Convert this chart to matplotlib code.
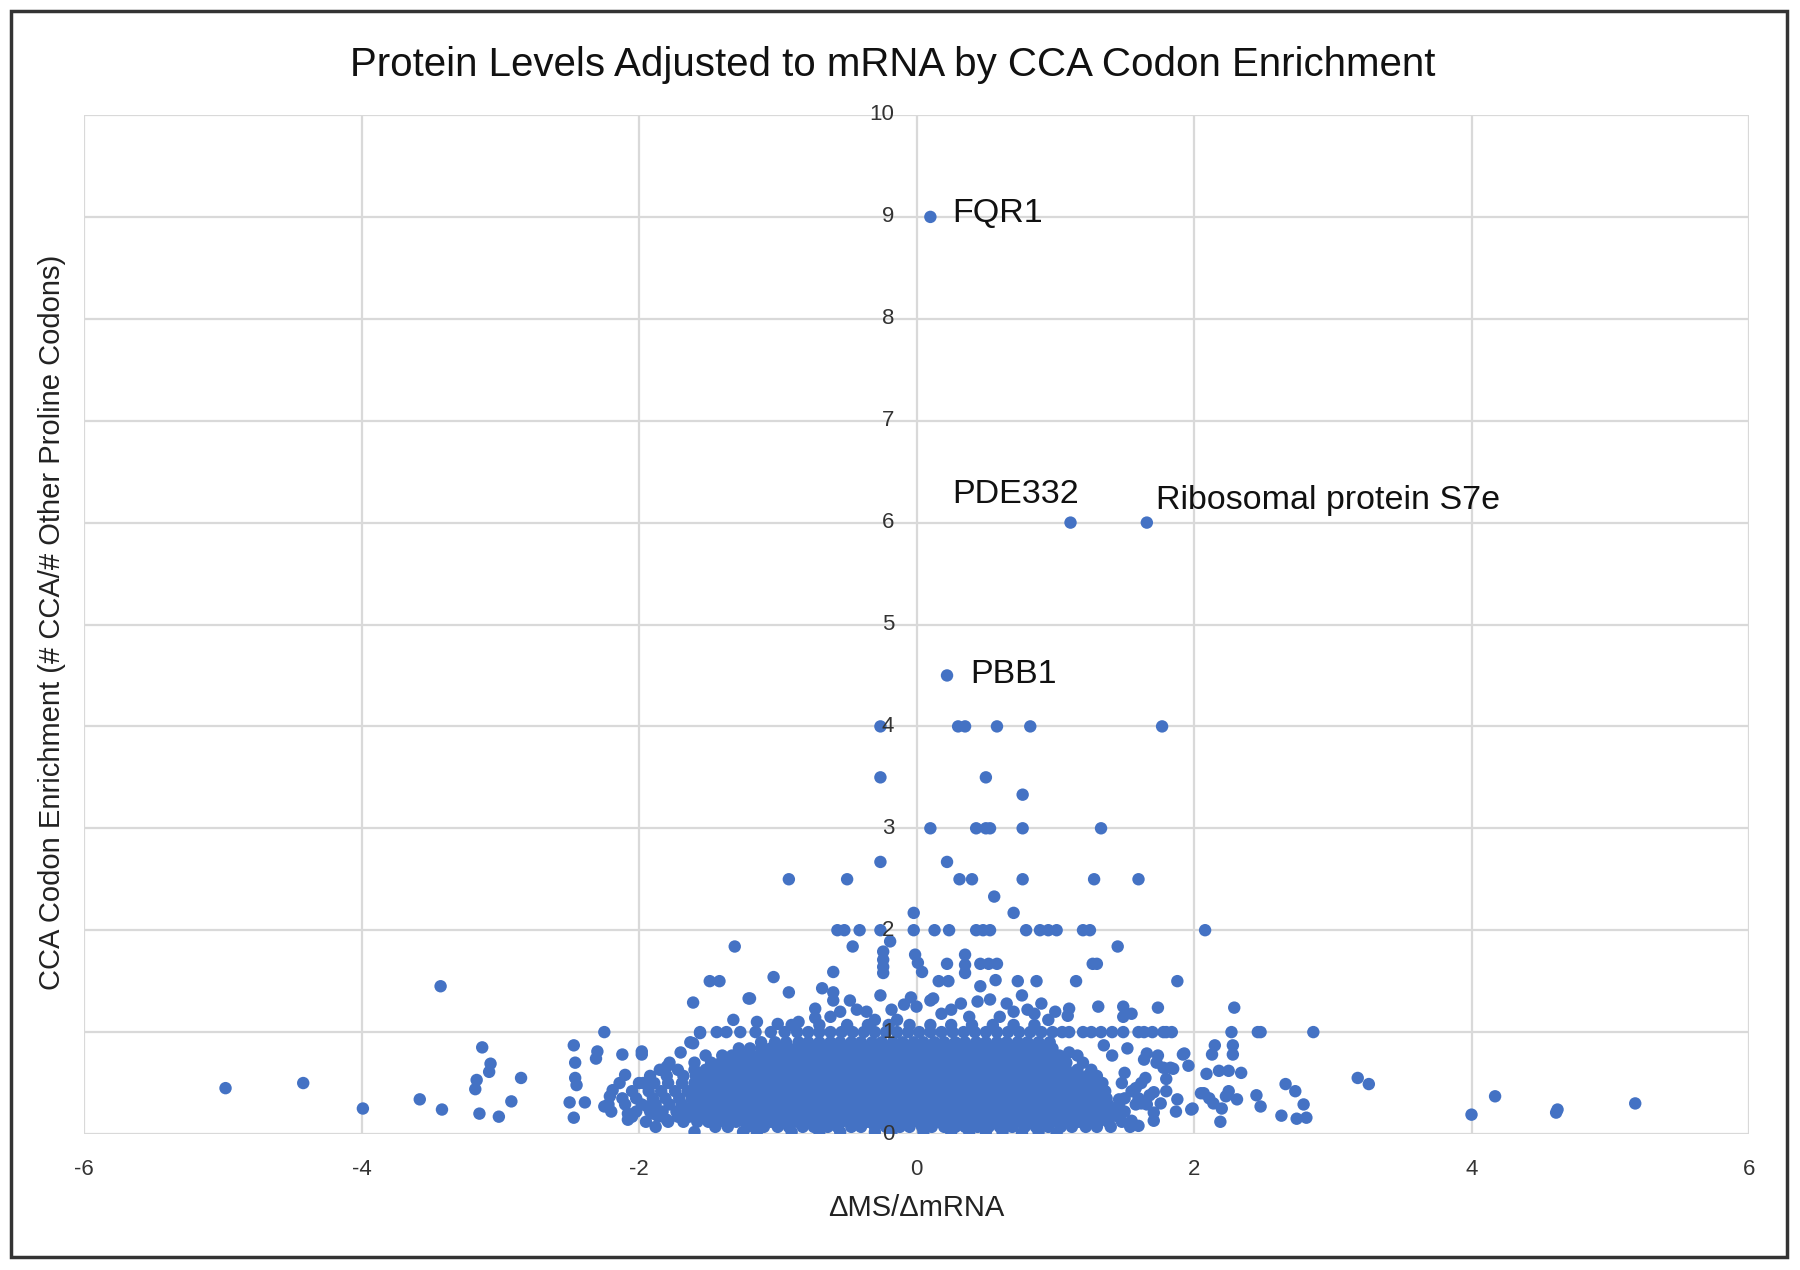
import matplotlib
matplotlib.use("Agg")
import matplotlib.pyplot as plt
from matplotlib.patches import Rectangle
import numpy as np

plt.rcParams['font.family'] = ['Liberation Sans', 'DejaVu Sans']
plt.rcParams['axes.unicode_minus'] = False

TITLE = "Protein Levels Adjusted to mRNA by CCA Codon Enrichment"
XLABEL = "\u0394MS/\u0394mRNA"
YLABEL = "CCA Codon Enrichment (# CCA/# Other Proline Codons)"
x_ticks = [-6, -4, -2, 0, 2, 4, 6]
y_ticks = [0, 1, 2, 3, 4, 5, 6, 7, 8, 9, 10]

# labelled genes
label_names = ["FQR1", "PDE332", "Ribosomal protein S7e", "PBB1"]
label_x = [0.10, 1.11, 1.66, 0.22]
label_y = [9.0, 6.0, 6.0, 4.5]

# sparse upper points (x, y)
upper_pts = [
    (-0.26, 4.0), (0.30, 4.0), (0.35, 4.0), (0.58, 4.0), (0.82, 4.0), (1.77, 4.0),
    (-0.26, 3.5), (0.50, 3.5), (0.765, 3.33),
    (0.10, 3.0), (0.43, 3.0), (0.50, 3.0), (0.53, 3.0), (0.765, 3.0), (1.33, 3.0),
    (-0.26, 2.67), (0.22, 2.67),
    (-0.92, 2.5), (-0.50, 2.5), (0.31, 2.5), (0.40, 2.5), (0.765, 2.5), (1.28, 2.5), (1.60, 2.5),
    (0.56, 2.33), (0.70, 2.17), (-0.02, 2.17),
    (-0.57, 2.0), (-0.52, 2.0), (-0.41, 2.0), (-0.26, 2.0), (-0.02, 2.0), (0.13, 2.0),
    (0.235, 2.0), (0.43, 2.0), (0.48, 2.0), (0.53, 2.0), (0.79, 2.0), (0.89, 2.0),
    (0.95, 2.0), (1.01, 2.0), (1.20, 2.0), (1.25, 2.0), (2.08, 2.0),
    (-0.19, 1.89), (-0.46, 1.84), (1.45, 1.84), (-1.31, 1.84),
    (-0.24, 1.79), (-0.24, 1.71), (-0.24, 1.64), (-0.24, 1.58),
    (-0.01, 1.76), (0.01, 1.68), (0.04, 1.59),
    (0.35, 1.76), (0.35, 1.66), (0.35, 1.58),
    (0.22, 1.67), (0.46, 1.67), (0.52, 1.67), (0.58, 1.67), (1.27, 1.67), (1.30, 1.67),
    (-0.60, 1.59), (-1.03, 1.54),
    (-1.49, 1.5), (-1.42, 1.5), (0.16, 1.5), (0.23, 1.5), (0.57, 1.51), (0.73, 1.5),
    (0.865, 1.5), (1.15, 1.5), (1.88, 1.5),
    (-3.43, 1.45), (-0.68, 1.43), (0.46, 1.45), (-0.92, 1.39),
    (-1.21, 1.33), (0.12, 1.33), (-1.61, 1.29), (-0.26, 1.36), (-0.60, 1.39), (-0.60, 1.31),
    (1.31, 1.25), (1.49, 1.25), (1.49, 1.15), (1.55, 1.18), (1.74, 1.24), (2.29, 1.24),
    (1.10, 1.23), (1.09, 1.16),
    (-1.32, 1.12), (-0.73, 1.23), (-0.73, 1.14), (-0.48, 1.31), (-0.55, 1.2), (-0.43, 1.22),
    (-0.36, 1.2), (-0.30, 1.12), (-0.18, 1.22), (-0.14, 1.12), (-0.09, 1.27), (-0.04, 1.34),
    (0.0, 1.25), (0.10, 1.31), (0.18, 1.18), (0.44, 1.30), (0.53, 1.32), (0.65, 1.28),
    (0.76, 1.36), (0.80, 1.22), (0.90, 1.28), (0.85, 1.18), (0.25, 1.22), (0.32, 1.28),
    (0.38, 1.15), (0.60, 1.15), (0.70, 1.20), (-0.62, 1.15), (-0.85, 1.10), (-1.0, 1.08),
    (-1.15, 1.10), (0.95, 1.12), (1.0, 1.20), (-1.63, 0.90), (-1.56, 0.99), (-1.20, 1.33),
]

# left outliers (x, y)
left_pts = [
    (-4.98, 0.45), (-4.42, 0.50), (-3.99, 0.25), (-3.58, 0.34), (-3.42, 0.24),
    (-3.13, 0.85), (-3.07, 0.69), (-3.08, 0.61), (-3.17, 0.53), (-3.18, 0.44),
    (-2.85, 0.55), (-2.92, 0.32), (-3.15, 0.20), (-3.01, 0.17),
    (-2.47, 0.87), (-2.46, 0.70), (-2.46, 0.55), (-2.45, 0.48), (-2.50, 0.31),
    (-2.39, 0.31), (-2.47, 0.16), (-2.25, 1.0), (-2.30, 0.81), (-2.31, 0.74),
    (-2.12, 0.78), (-2.10, 0.58), (-2.14, 0.50), (-2.19, 0.43), (-2.21, 0.37),
    (-2.25, 0.27), (-2.08, 0.20), (-2.08, 0.14), (-1.98, 0.81), (-1.98, 0.78),
    (-1.97, 0.50), (-1.94, 0.27), (-1.90, 0.20), (-1.80, 0.66), (-1.80, 0.14),
    (-1.61, 0.89), (-1.70, 0.80),
]

# right outliers (x, y)
right_pts = [
    (2.27, 1.0), (2.48, 1.0), (2.86, 1.0), (2.15, 0.87), (2.13, 0.78), (2.28, 0.87),
    (2.28, 0.78), (2.09, 0.59), (2.18, 0.62), (2.25, 0.62), (2.34, 0.60), (2.07, 0.40),
    (2.14, 0.30), (2.20, 0.25), (2.25, 0.42), (2.31, 0.34), (2.19, 0.12), (2.45, 0.38),
    (2.48, 0.27), (2.66, 0.49), (2.73, 0.42), (2.79, 0.29), (2.63, 0.18), (2.74, 0.15),
    (2.81, 0.16), (3.18, 0.55), (3.26, 0.49), (4.0, 0.19), (4.17, 0.37), (4.61, 0.21),
    (4.62, 0.24), (5.18, 0.30),
    (1.80, 1.0), (1.84, 1.0), (1.98, 0.24), (1.87, 0.22), (2.05, 0.40), (2.11, 0.35),
    (2.23, 0.37), (1.92, 0.78), (1.83, 0.65), (1.93, 0.79), (1.96, 0.67), (1.85, 0.64),
    (1.80, 0.54), (1.88, 0.34), (1.71, 0.41), (1.71, 0.21), (1.71, 0.13), (1.55, 0.13),
    (1.60, 0.08), (1.41, 0.25), (1.46, 0.34), (1.99, 0.25), (1.66, 0.79), (1.74, 0.77),
    (1.35, 0.87), (1.41, 0.77), (1.52, 0.84), (1.10, 0.80), (1.16, 0.77), (1.64, 0.73),
    (1.73, 0.70), (1.78, 0.65), (1.54, 0.07), (1.68, 0.38), (0.76, 0.01), (1.01, 0.01),
    (1.10, 1.0), (1.20, 1.0), (1.26, 1.0), (1.33, 1.0), (1.41, 1.0), (1.49, 1.0),
    (1.60, 1.0), (1.64, 1.0), (1.70, 1.0), (1.78, 1.0), (2.46, 1.0),
    (1.58, 0.45), (1.65, 0.55), (1.50, 0.60), (1.62, 0.30), (1.76, 0.30),
]

# dense core: x values read along each y level
core_levels = [0.02, 0.07, 0.12, 0.17, 0.22, 0.29, 0.35, 0.42, 0.50, 0.57,
               0.63, 0.70, 0.77, 0.84, 0.90, 1.00, 1.07]
row_002 = [-1.6, -1.25, -1.15, -0.9, -0.7, -0.55, -0.3, -0.18, 0.05, 0.25, 0.38, 0.5, 0.62, 0.88]
row_007 = [-1.88, -1.45, -1.36, -1.22, -1.1, -1.0, -0.92, -0.82, -0.74, -0.64, -0.57, -0.47,
           -0.4, -0.3, -0.22, -0.12, -0.05, 0.04, 0.11, 0.2, 0.28, 0.35, 0.44, 0.52, 0.6,
           0.69, 0.78, 0.86, 0.95, 1.04, 1.12, 1.22, 1.3, 1.4]
row_012 = [-1.95, -1.79, -1.68, -1.58, -1.5, -1.43, -1.37, -1.3, -1.24, -1.17, -1.11, -1.05,
           -0.98, -0.92, -0.86, -0.79, -0.73, -0.67, -0.6, -0.54, -0.48, -0.41, -0.35, -0.29,
           -0.22, -0.16, -0.1, -0.03, 0.03, 0.09, 0.16, 0.22, 0.28, 0.35, 0.41, 0.47, 0.54,
           0.6, 0.66, 0.73, 0.79, 0.85, 0.92, 0.98, 1.04, 1.11, 1.17, 1.24, 1.31, 1.38, 1.48]
row_017 = [-2.05, -1.86, -1.72, -1.64, -1.57, -1.5, -1.44, -1.38, -1.31, -1.25, -1.19, -1.12,
           -1.06, -1.0, -0.93, -0.87, -0.81, -0.74, -0.68, -0.62, -0.55, -0.49, -0.43, -0.36,
           -0.3, -0.24, -0.17, -0.11, -0.05, 0.02, 0.08, 0.14, 0.21, 0.27, 0.33, 0.4, 0.46,
           0.52, 0.59, 0.65, 0.71, 0.78, 0.84, 0.9, 0.97, 1.03, 1.09, 1.16, 1.22, 1.29, 1.36, 1.45]
row_022 = [-2.2, -2.02, -1.92, -1.83, -1.73, -1.65, -1.58, -1.52, -1.45, -1.39, -1.33, -1.26,
           -1.2, -1.14, -1.07, -1.01, -0.95, -0.88, -0.82, -0.76, -0.69, -0.63, -0.57, -0.5,
           -0.44, -0.38, -0.31, -0.25, -0.19, -0.12, -0.06, 0.0, 0.07, 0.13, 0.19, 0.26, 0.32,
           0.38, 0.45, 0.51, 0.57, 0.64, 0.7, 0.76, 0.83, 0.89, 0.95, 1.02, 1.08, 1.14, 1.21,
           1.27, 1.34, 1.42, 1.5]
row_029 = [-2.22, -2.1, -1.98, -1.88, -1.78, -1.69, -1.61, -1.54, -1.48, -1.41, -1.35, -1.29,
           -1.22, -1.16, -1.1, -1.03, -0.97, -0.91, -0.84, -0.78, -0.72, -0.65, -0.59, -0.53,
           -0.46, -0.4, -0.34, -0.27, -0.21, -0.15, -0.08, -0.02, 0.04, 0.11, 0.17, 0.23, 0.3,
           0.36, 0.42, 0.49, 0.55, 0.61, 0.68, 0.74, 0.8, 0.87, 0.93, 0.99, 1.06, 1.12, 1.18,
           1.25, 1.31, 1.38, 1.46, 1.58, 1.66]
row_035 = [-2.12, -2.02, -1.9, -1.81, -1.71, -1.62, -1.55, -1.49, -1.42, -1.36, -1.3, -1.23,
           -1.17, -1.11, -1.04, -0.98, -0.92, -0.85, -0.79, -0.73, -0.66, -0.6, -0.54, -0.47,
           -0.41, -0.35, -0.28, -0.22, -0.16, -0.09, -0.03, 0.03, 0.1, 0.16, 0.22, 0.29, 0.35,
           0.41, 0.48, 0.54, 0.6, 0.67, 0.73, 0.79, 0.86, 0.92, 0.98, 1.05, 1.11, 1.17, 1.24,
           1.3, 1.37, 1.5, 1.6]
row_042 = [-2.05, -1.93, -1.84, -1.74, -1.65, -1.57, -1.5, -1.44, -1.37, -1.31, -1.25, -1.18,
           -1.12, -1.06, -0.99, -0.93, -0.87, -0.8, -0.74, -0.68, -0.61, -0.55, -0.49, -0.42,
           -0.36, -0.3, -0.23, -0.17, -0.11, -0.04, 0.02, 0.08, 0.15, 0.21, 0.27, 0.34, 0.4,
           0.46, 0.53, 0.59, 0.65, 0.72, 0.78, 0.84, 0.91, 0.97, 1.03, 1.1, 1.16, 1.22, 1.29,
           1.36, 1.55, 1.8]
row_050 = [-2.0, -1.89, -1.79, -1.69, -1.6, -1.53, -1.46, -1.4, -1.33, -1.27, -1.21, -1.14,
           -1.08, -1.02, -0.95, -0.89, -0.83, -0.76, -0.7, -0.64, -0.57, -0.51, -0.45, -0.38,
           -0.32, -0.26, -0.19, -0.13, -0.07, 0.0, 0.06, 0.12, 0.19, 0.25, 0.31, 0.38, 0.44,
           0.5, 0.57, 0.63, 0.69, 0.76, 0.82, 0.88, 0.95, 1.01, 1.07, 1.14, 1.2, 1.27, 1.34,
           1.48, 1.62]
row_057 = [-1.92, -1.8, -1.68, -1.59, -1.51, -1.44, -1.38, -1.31, -1.25, -1.19, -1.12, -1.06,
           -1.0, -0.93, -0.87, -0.81, -0.74, -0.68, -0.62, -0.55, -0.49, -0.43, -0.36, -0.3,
           -0.24, -0.17, -0.11, -0.05, 0.02, 0.08, 0.14, 0.21, 0.27, 0.33, 0.4, 0.46, 0.52,
           0.59, 0.65, 0.71, 0.78, 0.84, 0.9, 0.97, 1.03, 1.09, 1.16, 1.23, 1.3]
row_063 = [-1.85, -1.72, -1.6, -1.52, -1.45, -1.39, -1.32, -1.26, -1.2, -1.13, -1.07, -1.01,
           -0.94, -0.88, -0.82, -0.75, -0.69, -0.63, -0.56, -0.5, -0.44, -0.37, -0.31, -0.25,
           -0.18, -0.12, -0.06, 0.01, 0.07, 0.13, 0.2, 0.26, 0.32, 0.39, 0.45, 0.51, 0.58,
           0.64, 0.7, 0.77, 0.83, 0.89, 0.96, 1.02, 1.08, 1.16, 1.26]
row_070 = [-1.78, -1.6, -1.48, -1.41, -1.34, -1.28, -1.21, -1.15, -1.09, -1.02, -0.96, -0.9,
           -0.83, -0.77, -0.71, -0.64, -0.58, -0.52, -0.45, -0.39, -0.33, -0.26, -0.2, -0.14,
           -0.07, -0.01, 0.05, 0.12, 0.18, 0.24, 0.31, 0.37, 0.43, 0.5, 0.56, 0.62, 0.69,
           0.75, 0.81, 0.88, 0.94, 1.0, 1.08, 1.2]
row_077 = [-1.52, -1.4, -1.33, -1.26, -1.19, -1.13, -1.07, -1.0, -0.94, -0.88, -0.81, -0.75,
           -0.69, -0.62, -0.56, -0.5, -0.43, -0.37, -0.31, -0.24, -0.18, -0.12, -0.05, 0.01,
           0.07, 0.14, 0.2, 0.26, 0.33, 0.39, 0.45, 0.52, 0.58, 0.64, 0.71, 0.77, 0.83, 0.9,
           0.96, 1.03]
row_084 = [-1.28, -1.2, -1.12, -1.05, -0.98, -0.92, -0.86, -0.79, -0.73, -0.67, -0.6, -0.54,
           -0.48, -0.41, -0.35, -0.29, -0.22, -0.16, -0.1, -0.03, 0.03, 0.09, 0.16, 0.22, 0.28,
           0.35, 0.41, 0.47, 0.54, 0.6, 0.66, 0.73, 0.79, 0.85, 0.92, 0.98]
row_090 = [-1.12, -1.02, -0.94, -0.85, -0.78, -0.7, -0.62, -0.55, -0.47, -0.4, -0.32, -0.25,
           -0.17, -0.1, -0.02, 0.05, 0.13, 0.2, 0.28, 0.35, 0.43, 0.5, 0.58, 0.65, 0.73, 0.8,
           0.88, 0.96]
row_100 = [-1.56, -1.44, -1.37, -1.27, -1.16, -1.05, -0.95, -0.86, -0.78, -0.7, -0.62, -0.54,
           -0.46, -0.38, -0.3, -0.22, -0.14, -0.06, 0.02, 0.1, 0.18, 0.26, 0.34, 0.42, 0.5,
           0.58, 0.66, 0.74, 0.82, 0.9, 0.98, 1.05]
row_107 = [-0.9, -0.7, -0.5, -0.35, -0.2, -0.05, 0.1, 0.25, 0.4, 0.55, 0.7, 0.85]
core_rows = [row_002, row_007, row_012, row_017, row_022, row_029, row_035, row_042,
             row_050, row_057, row_063, row_070, row_077, row_084, row_090, row_100, row_107]

# ---- assemble ----
core_x = [x for row in core_rows for x in row]
core_y = [lvl for lvl, row in zip(core_levels, core_rows) for _ in row]
pts = upper_pts + left_pts + right_pts
all_x = np.array(core_x + [p[0] for p in pts] + label_x)
all_y = np.array(core_y + [p[1] for p in pts] + label_y)

W, H = 1800, 1270
fig = plt.figure(figsize=(W / 100, H / 100), dpi=100)
fig.patch.set_facecolor('white')

ax = fig.add_axes([84 / W, 1 - 1134 / H, (1749 - 84) / W, (1134 - 115) / H])
ax.set_xlim(-6, 6)
ax.set_ylim(0, 10)
ax.set_xticks(x_ticks)
ax.set_yticks(y_ticks)
ax.grid(True, color='#d9d9d9', linewidth=1.6, zorder=0)
ax.set_axisbelow(True)
for s in ax.spines.values():
    s.set_visible(False)
ax.tick_params(axis='both', length=0)
ax.tick_params(axis='x', pad=18, labelsize=16, labelcolor='#333333')
ax.set_yticklabels([])

COLOR = '#4472C4'
ax.scatter(all_x, all_y, s=80, color=COLOR, edgecolors='none', zorder=3)

# y tick labels drawn at x = 0
for v in y_ticks:
    ax.annotate(str(v), xy=(0, v), xytext=(-16, 0), textcoords='offset points',
                ha='right', va='center', fontsize=16, color='#333333', zorder=6,
                annotation_clip=False)

# point labels
label_offsets = [(16, 2.5), (-85, 20.5), (6.5, 16), (16.5, 0.8)]
label_sizes = [24.5, 24.5, 24.5, 24.5]
for name, lx, ly, off, fs in zip(label_names, label_x, label_y, label_offsets, label_sizes):
    ax.annotate(name, xy=(lx, ly), xytext=off, textcoords='offset points',
                ha='left', va='center', fontsize=fs, color='#111111', zorder=6)

fig.text(0.496, 1 - 64.5 / H, TITLE, ha='center', va='center', fontsize=29, color='#111111')
fig.text(916 / W, 1 - 1207.5 / H, XLABEL, ha='center', va='center', fontsize=21, color='#222222')
fig.text(52 / W, 1 - 622 / H, YLABEL, ha='center', va='center', rotation=90,
         fontsize=21, color='#222222')

fig.patches.append(Rectangle((11 / W, 1 - 1257 / H), (1787 - 11) / W, (1257 - 11) / H,
                             transform=fig.transFigure, fill=False, edgecolor='#333333',
                             linewidth=2.5))

fig.savefig('out.png', dpi=100, facecolor='white')
